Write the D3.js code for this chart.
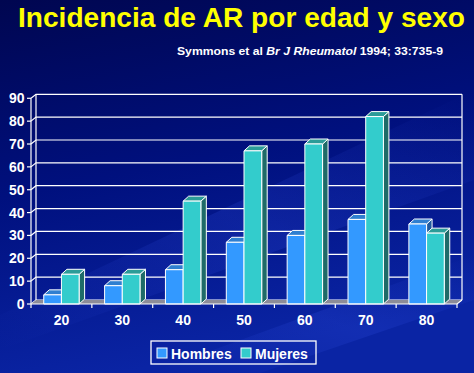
<!DOCTYPE html>
<html>
<head>
<meta charset="utf-8">
<script src="https://cdn.jsdelivr.net/npm/d3@7"></script>
<style>
body { margin: 0; background: #000a60; }
svg { display: block; font-family: "Liberation Sans", Arial, sans-serif; }
.lbl { fill: white; font-weight: bold; }
</style>
</head>
<body>
<svg width="474" height="373"></svg>
<script>
// data
var ages = ["20", "30", "40", "50", "60", "70", "80"];
var series = ["Hombres", "Mujeres"];
var hombres = [4, 8, 15, 27, 30, 37, 35];
var mujeres = [13, 13, 45, 67, 70, 82, 31];
var yTicks = [0, 10, 20, 30, 40, 50, 60, 70, 80, 90];

var colors = {
  Hombres: {front: "#3399ff", top: "#2f7fd0", side: "#1f5a9e"},
  Mujeres: {front: "#33cccc", top: "#2b9c98", side: "#1e6b68"}
};

var svg = d3.select("svg");
var defs = svg.append("defs");

// background
var bg = defs.append("linearGradient").attr("id", "bg")
  .attr("x1", 0).attr("y1", 0).attr("x2", 0.25).attr("y2", 1);
bg.append("stop").attr("offset", "0%").attr("stop-color", "#000650");
bg.append("stop").attr("offset", "50%").attr("stop-color", "#00107e");
bg.append("stop").attr("offset", "100%").attr("stop-color", "#0a24a4");
svg.append("rect").attr("width", 474).attr("height", 373).attr("fill", "url(#bg)");

// faint diagonal streaks
var streak = defs.append("linearGradient").attr("id", "streak")
  .attr("x1", 0).attr("y1", 1).attr("x2", 1).attr("y2", 0);
streak.append("stop").attr("offset", "0%").attr("stop-color", "#4060ff").attr("stop-opacity", 0);
streak.append("stop").attr("offset", "50%").attr("stop-color", "#4060ff").attr("stop-opacity", 0.16);
streak.append("stop").attr("offset", "100%").attr("stop-color", "#4060ff").attr("stop-opacity", 0);
svg.append("path").attr("d", "M0,315 L474,90 L474,180 L0,350 Z").attr("fill", "url(#streak)");
svg.append("path").attr("d", "M150,373 L474,255 L474,300 L260,373 Z").attr("fill", "url(#streak)");

// title
svg.append("text")
  .attr("x", 241.5).attr("y", 27)
  .attr("text-anchor", "middle")
  .attr("textLength", 447).attr("lengthAdjust", "spacingAndGlyphs")
  .style("font-size", "28.5px").style("font-weight", "bold").style("fill", "#ffff00")
  .text("Incidencia de AR por edad y sexo");

var sub = svg.append("text")
  .attr("x", 177).attr("y", 55)
  .attr("textLength", 266).attr("lengthAdjust", "spacingAndGlyphs")
  .attr("class", "lbl").style("font-size", "11.5px");
sub.append("tspan").text("Symmons et al ");
sub.append("tspan").style("font-style", "italic").text("Br J Rheumatol");
sub.append("tspan").text(" 1994; 33:735-9");

// scales
var x = d3.scaleBand().domain(ages).range([31, 457]);
var xs = d3.scaleBand().domain(series).range([0, x.bandwidth()]).paddingOuter(0.72);
var y = d3.scaleLinear().domain([0, 90]).range([304, 98.3]);
var dx = 5, dy = -4;     // depth of the walls
var bdx = 5.5, bdy = -5; // depth of the bars

var x0 = x.range()[0], x1 = x.range()[1];

// back wall gridlines + hooks on left wall
var grid = svg.append("g").attr("stroke", "white").attr("stroke-width", 1.2).attr("fill", "none");
yTicks.forEach(function(t) {
  grid.append("path").attr("d",
    "M" + x0 + "," + y(t) + " L" + (x0 + dx) + "," + (y(t) + dy) + " L" + (x1 + dx) + "," + (y(t) + dy));
});
grid.append("line").attr("x1", x0 + dx).attr("x2", x0 + dx).attr("y1", y(0) + dy).attr("y2", y(90) + dy);
grid.append("line").attr("x1", x1 + dx).attr("x2", x1 + dx).attr("y1", y(0) + dy).attr("y2", y(90) + dy);
grid.append("line").attr("x1", x0).attr("x2", x0).attr("y1", y(0)).attr("y2", y(90));

// floor
svg.append("path")
  .attr("d", "M" + x0 + "," + y(0) + " L" + x1 + "," + y(0) + " L" + (x1 + dx) + "," + (y(0) + dy) +
    " L" + (x0 + dx) + "," + (y(0) + dy) + " Z")
  .attr("fill", "#8c8c98");

// y axis
var yAxis = svg.append("g");
yTicks.forEach(function(t) {
  yAxis.append("line").attr("x1", x0 - 4).attr("x2", x0).attr("y1", y(t)).attr("y2", y(t))
    .attr("stroke", "white").attr("stroke-width", 1.2);
  yAxis.append("text").attr("class", "lbl").attr("x", 24.5).attr("y", y(t) + 5)
    .attr("text-anchor", "end").style("font-size", "14px").text(t);
});

// bars
var rows = ages.map(function(a, i) {
  return [{age: a, key: "Hombres", v: hombres[i]}, {age: a, key: "Mujeres", v: mujeres[i]}];
});
var bars = svg.append("g").attr("stroke", "white").attr("stroke-width", 1).attr("stroke-linejoin", "round");
rows.forEach(function(r) {
  r.forEach(function(d) {
    var bx = x(d.age) + xs(d.key), bw = xs.bandwidth();
    var top = y(d.v), bot = y(0);
    var c = colors[d.key];
    bars.append("path").attr("fill", c.side)
      .attr("d", "M" + (bx + bw) + "," + bot + " L" + (bx + bw + bdx) + "," + (bot + bdy) +
        " L" + (bx + bw + bdx) + "," + (top + bdy) + " L" + (bx + bw) + "," + top + " Z");
    bars.append("path").attr("fill", c.top)
      .attr("d", "M" + bx + "," + top + " L" + (bx + bdx) + "," + (top + bdy) +
        " L" + (bx + bw + bdx) + "," + (top + bdy) + " L" + (bx + bw) + "," + top + " Z");
    bars.append("rect").attr("fill", c.front)
      .attr("x", bx).attr("y", top).attr("width", bw).attr("height", bot - top);
  });
});

// front x axis
var xAxis = svg.append("g").attr("stroke", "white").attr("stroke-width", 1.2);
xAxis.append("path").attr("fill", "none")
  .attr("d", "M" + x0 + "," + y(0) + " L" + x1 + "," + y(0) + " L" + (x1 + dx) + "," + (y(0) + dy));
ages.forEach(function(a) {
  xAxis.append("line").attr("x1", x(a)).attr("x2", x(a)).attr("y1", y(0)).attr("y2", y(0) + 4);
});
xAxis.append("line").attr("x1", x1).attr("x2", x1).attr("y1", y(0)).attr("y2", y(0) + 4);
ages.forEach(function(a) {
  svg.append("text").attr("class", "lbl")
    .attr("x", x(a) + x.bandwidth() / 2).attr("y", 325)
    .attr("text-anchor", "middle").style("font-size", "14px").text(a);
});

// legend
var lg = svg.append("g");
lg.append("rect").attr("x", 151).attr("y", 341).attr("width", 165).attr("height", 23)
  .attr("fill", "none").attr("stroke", "white").attr("stroke-width", 1.3);
var legX = [157, 241];
series.forEach(function(s, i) {
  lg.append("rect").attr("x", legX[i]).attr("y", 348).attr("width", 10).attr("height", 10)
    .attr("fill", colors[s].front).attr("stroke", "white").attr("stroke-width", 1);
  lg.append("text").attr("class", "lbl").attr("x", legX[i] + 14).attr("y", 358.5)
    .style("font-size", "14px").text(s);
});
</script>
</body>
</html>
